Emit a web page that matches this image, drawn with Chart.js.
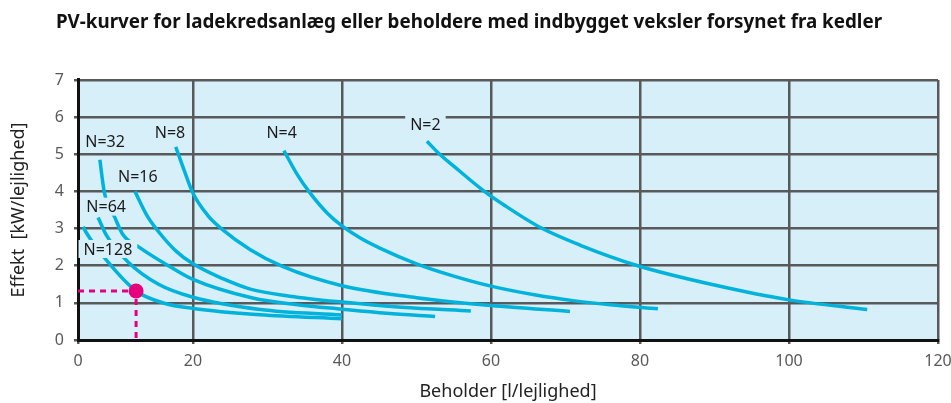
<!DOCTYPE html>
<html lang="da">
<head>
<meta charset="utf-8">
<title>PV-kurver</title>
<script src="https://cdn.jsdelivr.net/npm/chart.js@4.4.0/dist/chart.umd.min.js"></script>
<style>
  html, body { margin: 0; padding: 0; background: #fff; }
  #wrap { width: 951px; height: 403px; }
</style>
</head>
<body>
<div id="wrap"><canvas id="pvKurver" width="951" height="403"></canvas></div>
<script>
// Aksernes inddeling
const beholderTicks = [0, 20, 40, 60, 80, 100, 120];
const effektTicks = [0, 1, 2, 3, 4, 5, 6, 7];

// PV-kurver: [beholder l/lejlighed, effekt kW/lejlighed]
const kurveNavne = ['N=2', 'N=4', 'N=8', 'N=16', 'N=32', 'N=64', 'N=128'];
const kurveN2 = [[51.4, 5.35], [53, 5.02], [55, 4.68], [58.8, 4.05], [62, 3.6], [66.7, 3.02], [72, 2.55], [79.7, 2.0], [90, 1.48], [100, 1.08], [110.5, 0.82]];
const kurveN4 = [[32.2, 5.1], [34, 4.45], [35.7, 3.96], [38, 3.42], [40, 3.07], [42.4, 2.75], [45, 2.48], [50, 2.05], [55, 1.72], [60, 1.45], [66, 1.21], [71, 1.06], [76, 0.95], [82.4, 0.84]];
const kurveN8 = [[17, 5.2], [18.5, 4.55], [20, 3.95], [22, 3.35], [23.8, 3.0], [27.7, 2.43], [32, 1.98], [40, 1.46], [50, 1.14], [60, 0.93], [70.6, 0.77]];
const kurveN16 = [[9.9, 4.0], [12, 3.35], [14.3, 2.86], [17, 2.4], [20, 2.05], [24, 1.65], [27.7, 1.37], [33, 1.18], [40, 1.02], [48, 0.88], [57.3, 0.78]];
const kurveN32 = [[3.8, 4.85], [4.6, 3.96], [6.4, 3.3], [7.8, 2.84], [10.8, 2.48], [15.5, 2.02], [20, 1.63], [28, 1.13], [34, 0.95], [40, 0.83], [46, 0.72], [52.5, 0.63]];
const kurveN64 = [[3.5, 3.3], [4.9, 2.83], [8.7, 2.1], [14, 1.5], [20, 1.15], [29, 0.82], [40, 0.67]];
const kurveN128 = [[0.9, 3.05], [1.4, 2.9], [5.2, 2.1], [10.1, 1.32], [15, 0.99], [20, 0.85], [29, 0.68], [40, 0.57]];
const alleKurver = [kurveN2, kurveN4, kurveN8, kurveN16, kurveN32, kurveN64, kurveN128];

// Hvor N-teksterne står (samme enheder som akserne)
const etiketPlacering = [[51.2, 5.8], [31.9, 5.6], [16, 5.6], [10.4, 4.39], [4.7, 5.34], [4.9, 3.59], [5.2, 2.45]];

// Eksempel på aflæsning
const valgtBeholder = 10.1;
const valgtEffekt = 1.32;

const plotBaggrund = '#d7eff8';
const kurveFarve = '#00b3dc';
const gitterFarve = '#58595b';
const markeringFarve = '#e6007e';

// x-aksen er tegnet med et sammentrykket første felt (0-20)
const KNAEK_VAERDI = 20;
const KNAEK_ANDEL = 115 / 860;

class KnaekketSkala extends Chart.LinearScale {
    getPixelForValue(value) {
        if (value === null || value === undefined) return NaN;
        const d = value <= KNAEK_VAERDI
            ? (value - this.min) / (KNAEK_VAERDI - this.min) * KNAEK_ANDEL
            : KNAEK_ANDEL + (value - KNAEK_VAERDI) / (this.max - KNAEK_VAERDI) * (1 - KNAEK_ANDEL);
        return this.getPixelForDecimal(d);
    }
    getValueForPixel(pixel) {
        const d = this.getDecimalForPixel(pixel);
        return d <= KNAEK_ANDEL
            ? this.min + d / KNAEK_ANDEL * (KNAEK_VAERDI - this.min)
            : KNAEK_VAERDI + (d - KNAEK_ANDEL) / (1 - KNAEK_ANDEL) * (this.max - KNAEK_VAERDI);
    }
}
KnaekketSkala.id = 'knaekket';
KnaekketSkala.defaults = Chart.LinearScale.defaults;
Chart.register(KnaekketSkala);

// Lyseblå baggrund i plotområdet
const baggrundPlugin = {
    id: 'baggrund',
    beforeDraw(chart) {
        const { ctx, chartArea } = chart;
        ctx.save();
        ctx.fillStyle = plotBaggrund;
        ctx.fillRect(chartArea.left, chartArea.top, chartArea.right - chartArea.left, chartArea.bottom - chartArea.top);
        ctx.restore();
    }
};

// N-tekster med baggrund, så de dækker gitter og kurver
const etiketPlugin = {
    id: 'etiketter',
    afterDatasetsDraw(chart) {
        const { ctx, scales } = chart;
        ctx.save();
        ctx.font = '16px "Noto Sans"';
        ctx.textAlign = 'center';
        ctx.textBaseline = 'middle';
        kurveNavne.forEach((navn, i) => {
            const px = scales.x.getPixelForValue(etiketPlacering[i][0]);
            const py = scales.y.getPixelForValue(etiketPlacering[i][1]);
            const w = ctx.measureText(navn).width;
            ctx.fillStyle = plotBaggrund;
            ctx.fillRect(px - w / 2 - 5, py - 9, w + 10, 18);
            ctx.fillStyle = '#1a1a1a';
            ctx.fillText(navn, px, py + 1);
        });
        ctx.restore();
    }
};

const datasets = alleKurver.map((kurve, i) => ({
    label: kurveNavne[i],
    data: kurve.map(p => ({ x: p[0], y: p[1] })),
    borderColor: kurveFarve,
    borderWidth: 3.5,
    pointRadius: 0,
    fill: false,
    cubicInterpolationMode: 'monotone',
    order: 1,
}));

datasets.push({
    label: 'Aflæsning',
    data: [{ x: 0, y: valgtEffekt }, { x: valgtBeholder, y: valgtEffekt }, { x: valgtBeholder, y: 0 }],
    borderColor: markeringFarve,
    borderWidth: 3,
    borderDash: [6, 5],
    pointRadius: [0, 7.5, 0],
    pointBackgroundColor: markeringFarve,
    pointBorderWidth: 0,
    tension: 0,
    order: 0,
});

new Chart(document.getElementById('pvKurver'), {
    type: 'line',
    data: { datasets },
    options: {
        responsive: false,
        animation: false,
        events: [],
        layout: { padding: { left: 0, right: 13, top: 0, bottom: 0 } },
        plugins: {
            legend: { display: false },
            tooltip: { enabled: false },
            title: {
                display: true,
                text: 'PV-kurver for ladekredsanlæg eller beholdere med indbygget veksler forsynet fra kedler',
                color: '#111',
                font: { family: 'Noto Sans', size: 18.8, weight: 'bold', lineHeight: 1.2 },
                padding: { top: 11, bottom: 46.4 },
            },
        },
        scales: {
            x: {
                type: 'knaekket',
                min: beholderTicks[0],
                max: beholderTicks[beholderTicks.length - 1],
                afterBuildTicks: s => { s.ticks = beholderTicks.map(v => ({ value: v })); },
                afterFit: s => { s.height = 63; s.paddingRight = 0; },
                grid: { color: gitterFarve, lineWidth: 2.5, tickLength: 4 },
                border: { color: '#111', width: 3 },
                ticks: { color: '#595959', font: { family: 'Noto Sans', size: 16 }, padding: 8, maxRotation: 0 },
                title: {
                    display: true,
                    text: 'Beholder [l/lejlighed]',
                    color: '#222',
                    font: { family: 'Noto Sans', size: 18 },
                    padding: { top: 0, bottom: 0 },
                },
            },
            y: {
                type: 'linear',
                min: effektTicks[0],
                max: effektTicks[effektTicks.length - 1],
                afterBuildTicks: s => { s.ticks = effektTicks.map(v => ({ value: v })); },
                afterFit: s => { s.width = 78; },
                grid: { color: gitterFarve, lineWidth: 2.5, tickLength: 4 },
                border: { color: '#111', width: 3 },
                ticks: { color: '#595959', font: { family: 'Noto Sans', size: 16 }, padding: 10 },
                title: {
                    display: true,
                    text: 'Effekt  [kW/lejlighed]',
                    color: '#222',
                    font: { family: 'Noto Sans', size: 18 },
                    padding: { top: 8, bottom: 0 },
                },
            },
        },
    },
    plugins: [baggrundPlugin, etiketPlugin],
});
</script>
</body>
</html>
